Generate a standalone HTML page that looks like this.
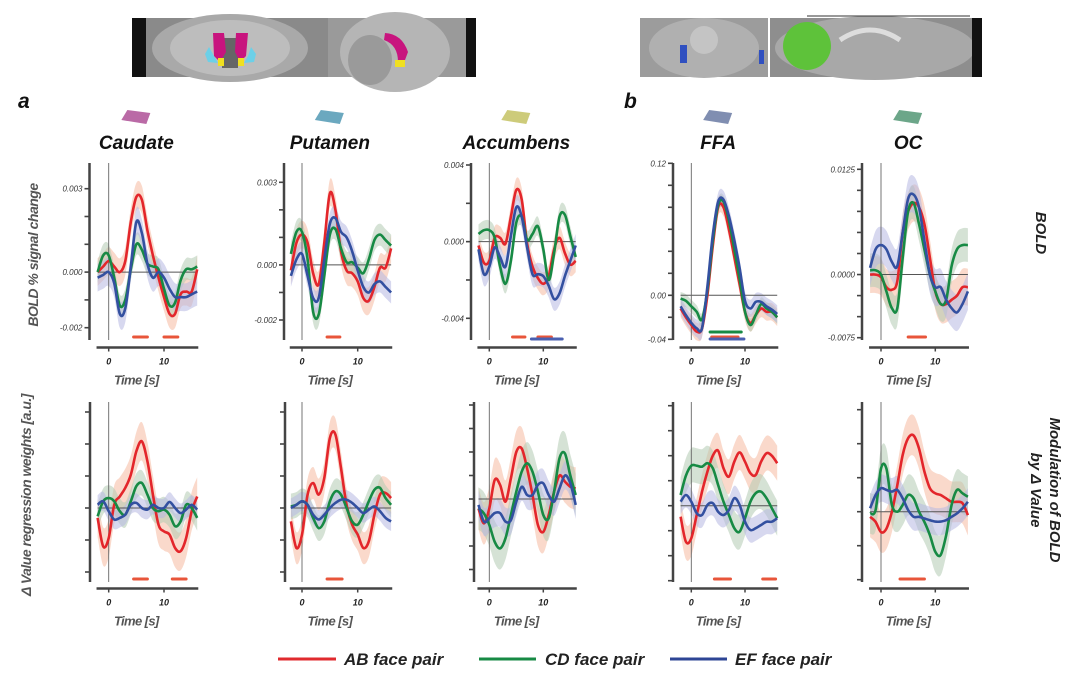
<!DOCTYPE html>
<html><head><meta charset="utf-8">
<style>
body{margin:0;background:#fff;}
svg{display:block;font-family:"Liberation Sans",sans-serif;}
</style></head>
<body>
<svg id="fig" width="1088" height="692" viewBox="0 0 1088 692" xmlns="http://www.w3.org/2000/svg">
<!-- brain images -->
<g>
  <rect x="132" y="18" width="196" height="59" fill="#8a8a8a"/>
  <rect x="132" y="18" width="14" height="59" fill="#111"/>
  <ellipse cx="230" cy="48" rx="78" ry="34" fill="#a9a9a9"/>
  <ellipse cx="230" cy="48" rx="60" ry="28" fill="#bdbdbd"/>
  <rect x="222" y="38" width="16" height="30" fill="#666"/>
  <path d="M213 33 L224 33 L226 52 L220 62 L214 56 Z" fill="#c8147e"/>
  <path d="M236 33 L248 33 L246 56 L240 62 L235 52 Z" fill="#c8147e"/>
  <path d="M209 47 L214 56 L218 63 L208 62 L205 54 Z" fill="#6cd0e8"/>
  <path d="M251 47 L256 54 L254 62 L244 63 L248 56 Z" fill="#6cd0e8"/>
  <rect x="218" y="58" width="6" height="8" fill="#f0e020"/>
  <rect x="238" y="58" width="6" height="8" fill="#f0e020"/>
  <rect x="328" y="18" width="148" height="59" fill="#9a9a9a"/>
  <ellipse cx="395" cy="52" rx="55" ry="40" fill="#b5b5b5"/>
  <ellipse cx="370" cy="60" rx="22" ry="25" fill="#9a9a9a"/>
  <path d="M385 33 Q402 34 408 52 L405 60 L398 62 Q398 45 384 40 Z" fill="#c8147e"/>
  <rect x="395" y="60" width="10" height="7" fill="#f0e020"/>
  <rect x="466" y="18" width="10" height="59" fill="#111"/>
</g>
<g>
  <rect x="640" y="18" width="128" height="59" fill="#9c9c9c"/>
  <ellipse cx="704" cy="48" rx="55" ry="30" fill="#b0b0b0"/>
  <ellipse cx="704" cy="40" rx="14" ry="14" fill="#c4c4c4"/>
  <rect x="680" y="45" width="7" height="18" fill="#3050c0"/>
  <rect x="759" y="50" width="5" height="14" fill="#3050c0"/>
  <rect x="770" y="18" width="212" height="59" fill="#8e8e8e"/>
  <ellipse cx="875" cy="48" rx="100" ry="32" fill="#a8a8a8"/>
  <path d="M840 40 Q870 20 900 40" stroke="#ddd" stroke-width="5" fill="none"/>
  <ellipse cx="807" cy="46" rx="24" ry="24" fill="#5ec23a"/>
  <rect x="972" y="18" width="10" height="59" fill="#111"/>
  <line x1="807" y1="16" x2="970" y2="16" stroke="#333" stroke-width="1"/>
</g>
<text x="18" y="108" font-size="21" font-weight="bold" font-style="italic" fill="#111">a</text>
<text x="624" y="108" font-size="21" font-weight="bold" font-style="italic" fill="#111">b</text>
<text transform="translate(38,255) rotate(-90)" text-anchor="middle" font-size="14" font-weight="bold" font-style="italic" fill="#555" letter-spacing="-0.5">BOLD % signal change</text>
<text transform="translate(31,495) rotate(-90)" text-anchor="middle" font-size="14" font-weight="bold" font-style="italic" fill="#555" letter-spacing="-0.5">Δ Value regression weights [a.u.]</text>
<text transform="translate(1036,233) rotate(90)" text-anchor="middle" font-size="15" font-weight="bold" font-style="italic" fill="#222">BOLD</text>
<text transform="translate(1050,490) rotate(90)" text-anchor="middle" font-size="15" font-weight="bold" font-style="italic" fill="#222">Modulation of BOLD</text>
<text transform="translate(1031,490) rotate(90)" text-anchor="middle" font-size="15" font-weight="bold" font-style="italic" fill="#222">by Δ Value</text>
<g id="plots"></g>
<g>
  <g>
    <line x1="278" y1="659" x2="336" y2="659" stroke="#e02a2e" stroke-width="3"/>
    <text x="344" y="665" font-size="17" font-weight="bold" font-style="italic" fill="#222">AB face pair</text>
  </g>
  <g>
    <line x1="479" y1="659" x2="536" y2="659" stroke="#178a44" stroke-width="3"/>
    <text x="545" y="665" font-size="17" font-weight="bold" font-style="italic" fill="#222">CD face pair</text>
  </g>
  <g>
    <line x1="670" y1="659" x2="727" y2="659" stroke="#2e4595" stroke-width="3"/>
    <text x="735" y="665" font-size="17" font-weight="bold" font-style="italic" fill="#222">EF face pair</text>
  </g>
</g>
</svg>
<script>
// ---- data ----
const times = [-2,-1,0,1,2,3,4,5,6,7,8,9,10,11,12,13,14,15,16];
const regions = ["Caudate","Putamen","Accumbens","FFA","OC"];
const seriesNames = ["AB","CD","EF"];
// BOLD % signal change (top row)
const boldCaudateAB = [0,0.0002,0.0004,0.0002,0,0.0004,0.0018,0.0027,0.0026,0.0015,0.0006,-0.0002,-0.0009,-0.0015,-0.0015,-0.0008,-0.0007,-0.0007,0.0001];
const boldCaudateCD = [0,0.0006,0.0006,-0.0002,-0.0012,-0.001,0.0001,0.001,0.0008,0.0003,0.0002,0.0001,-0.0006,-0.0012,-0.0011,-0.0003,0.0001,0.0001,0.0002];
const boldCaudateEF = [-0.0002,-0.0001,0,-0.0004,-0.0015,-0.0013,0.0002,0.0018,0.0014,0.0003,-0.0002,0,-0.0002,-0.0006,-0.0009,-0.0009,-0.0009,-0.0008,-0.0007];
const boldPutamenAB = [-0.0002,0.0008,0.0011,0.0008,-0.0003,-0.0007,0.0008,0.0026,0.002,0.0005,-0.0002,-0.0003,-0.0006,-0.0012,-0.0013,-0.0008,-0.0001,-0.0001,0.0006];
const boldPutamenCD = [0.0004,0.0012,0.0012,0.0002,-0.0017,-0.0018,-0.0004,0.0011,0.0013,0.0006,0.0001,0.0001,-0.0001,-0.0003,0.0002,0.0009,0.0011,0.0009,0.0007];
const boldPutamenEF = [-0.0004,0.0002,0.0004,-0.0004,-0.0012,-0.0012,0.0002,0.0015,0.0017,0.0012,0.001,0.0005,-0.0002,-0.0008,-0.001,-0.0007,-0.0006,-0.0008,-0.001];
const boldAccumbensAB = [-0.0002,-0.0011,-0.001,0.0002,0.0002,-0.0001,0.0013,0.0027,0.0022,-0.0001,-0.0013,-0.0019,-0.0022,-0.0018,-0.0004,0.0002,-0.0006,-0.0012,-0.001];
const boldAccumbensCD = [0.0004,0.0006,0.0006,0.0002,-0.0013,-0.0022,-0.001,0.001,0.0013,0.0001,0.0004,0.0008,-0.0004,-0.002,-0.0006,0.0013,0.0014,0.0003,-0.0008];
const boldAccumbensEF = [-0.0004,-0.0017,-0.0013,-0.0003,-0.0008,-0.0013,0.0003,0.0018,0.0013,-0.0003,-0.0017,-0.0017,-0.0018,-0.0023,-0.003,-0.0027,-0.0018,-0.001,-0.0002];
const boldFFAAB = [-0.012,-0.02,-0.027,-0.033,-0.03,0,0.045,0.08,0.08,0.06,0.035,0.01,-0.015,-0.025,-0.018,-0.012,-0.015,-0.015,-0.02];
const boldFFACD = [-0.003,-0.005,-0.01,-0.015,-0.022,0.005,0.05,0.082,0.085,0.068,0.042,0.015,-0.015,-0.027,-0.018,-0.008,-0.012,-0.015,-0.02];
const boldFFAEF = [-0.01,-0.018,-0.025,-0.03,-0.03,0.008,0.055,0.085,0.087,0.072,0.05,0.025,-0.005,-0.012,-0.006,-0.006,-0.01,-0.013,-0.017];
const boldOCAB = [0,0,-0.0003,-0.0015,-0.0018,-0.0008,0.005,0.0075,0.0085,0.008,0.006,0.002,-0.002,-0.0035,-0.0035,-0.003,-0.0025,-0.0015,-0.0015];
const boldOCCD = [0.0005,0.0005,0,-0.002,-0.004,-0.004,0.002,0.0075,0.0085,0.006,0.003,0,-0.002,-0.0035,-0.003,0.001,0.003,0.0035,0.0035];
const boldOCEF = [0.0008,0.003,0.0035,0.003,0.0015,0.001,0.005,0.009,0.0095,0.008,0.004,0,-0.0015,-0.0015,-0.003,-0.004,-0.0045,-0.0035,-0.002];
// Δ Value regression weights (bottom row, a.u.)
const modCaudateAB = [-0.31,-1.2,-0.94,0.1,0.36,0.63,1.04,1.77,2.08,1.46,0.42,-0.52,-0.73,-0.83,-1.25,-1.35,-0.94,-0.1,0.36];
const modCaudateCD = [-0.26,0.21,0.31,0.21,-0.1,-0.21,0.21,0.68,0.78,0.42,0,-0.1,-0.05,-0.21,-0.57,-0.42,0.1,0,-0.31];
const modCaudateEF = [0.1,0.21,-0.1,-0.36,-0.31,-0.21,0.1,0.16,0,-0.05,0.1,0,0,0.19,0,-0.16,-0.05,0.1,-0.05];
const modPutamenAB = [-0.42,-1.25,-0.83,0.42,0.78,0.42,0.94,2.19,2.3,1.25,0.1,-0.52,-0.83,-1.25,-1.04,-0.21,0.42,0.47,0.31];
const modPutamenCD = [0.05,0.1,0.21,0.1,-0.31,-0.63,-0.42,0.21,0.52,0.42,0,-0.42,-0.52,-0.21,0.21,0.57,0.63,0.31,0.1];
const modPutamenEF = [0,0.1,0.21,0.1,-0.21,-0.36,-0.21,0,0.16,0.26,0.26,0.16,0,-0.16,-0.05,0.05,-0.1,-0.31,-0.42];
const modAccumbensAB = [-0.4,-1.04,-0.4,0.81,0.6,-0.11,0.88,2.0,2.15,1.3,0.17,-1.1,-1.4,-0.68,0.31,1.0,0.74,0.52,0.45];
const modAccumbensCD = [-0.4,-0.61,-1.1,-1.82,-2.1,-1.67,-0.68,0.31,1.16,1.52,1.16,0.31,-0.68,-0.82,0.31,1.73,1.94,1.0,0.17];
const modAccumbensEF = [-0.25,-0.96,-0.82,-0.6,-0.6,-0.96,-0.9,-0.11,0.52,0.17,0.17,0.6,0.67,0.17,-0.11,0.45,1.0,0.67,-0.25];
const modFFAAB = [-0.44,-1.44,-1.3,-0.37,0.56,1.36,2.0,2.2,1.5,1.16,1.76,2.13,1.76,1.3,1.23,1.76,2.1,2.0,1.7];
const modFFACD = [0.43,1.2,1.6,1.6,1.56,1.7,1.5,0.83,0.16,-0.37,-0.9,-1.04,-0.5,0.16,0.5,0.56,0.3,-0.1,-0.5];
const modFFAEF = [0.16,0.43,0.16,-0.3,-0.37,0.03,0.1,-0.24,-0.37,-0.17,0.3,0.03,-0.64,-0.97,-0.9,-0.77,-0.64,-0.64,-0.5];
const modOCAB = [-0.15,-0.3,-0.6,-0.5,0,0.78,1.67,2.16,2.24,1.86,1.18,0.69,0.54,0.49,0.39,0.29,0.29,0.25,-0.1];
const modOCCD = [-0.05,0.05,1.27,1.27,0.2,0,0.2,0.49,0.39,0,-0.3,-0.69,-1.18,-1.27,-0.69,0.2,0.64,0.54,0.44];
const modOCEF = [0.1,0.49,0.69,0.64,0.59,0.64,0.39,0.05,-0.15,-0.15,-0.2,-0.25,-0.29,-0.29,-0.25,-0.15,-0.05,0.1,0.29];
// error band half-widths [AB, CD, EF]
const boldBands = [[0.0005,0.0004,0.0005],[0.0005,0.0004,0.0004],[0.0006,0.0005,0.0006],[0.008,0.006,0.008],[0.0022,0.002,0.0022]];
const modBands = [[0.6,0.4,0.3],[0.5,0.4,0.3],[0.9,0.9,0.6],[0.7,0.7,0.5],[0.6,0.6,0.4]];
// y ticks: values
const boldTicks = [[0.003,0.002,0.001,0,-0.001,-0.002],[0.003,0.002,0.001,0,-0.001,-0.002],[0.004,0.002,0,-0.002,-0.004],[0.12,0.1,0.08,0.06,0.04,0.02,0,-0.02,-0.04],[0.0125,0.01,0.0075,0.005,0.0025,0,-0.0025,-0.005,-0.0075]];
const boldTickLabels = [["0.003","","","0.000","","-0.002"],["0.003","","","0.000","","-0.002"],["0.004","","0.000","","-0.004"],["0.12","","","","","","0.00","","-0.04"],["0.0125","","","","","0.0000","","","-0.0075"]];
const modTicks = [[3,2,1,0,-1,-2],[3,2,1,0,-1,-2],[4,3,2,1,0,-1,-2,-3],[4,3,2,1,0,-1,-2,-3],[3,2,1,0,-1,-2]];
const xTickValues = [0,10];
// significance bars [start,end] per series
const boldSig = [[[[4.5,7],[10,12.5]],[],[]],[[[4.5,6.8]],[],[]],[[[4.3,6.6],[9,11.5]],[],[[7.8,13.5]]],[[[3.8,8.7]],[[3.5,9.3]],[[3.5,9.8]]],[[[5,8.2]],[],[]]];
const modSig = [[[[4.5,7],[11.5,14]],[],[]],[[[4.5,7.2]],[],[]],[[],[],[]],[[[4.3,7.3],[13.3,15.7]],[],[]],[[[3.5,8]],[],[]]];
const boldSeries = [[boldCaudateAB,boldCaudateCD,boldCaudateEF],[boldPutamenAB,boldPutamenCD,boldPutamenEF],[boldAccumbensAB,boldAccumbensCD,boldAccumbensEF],[boldFFAAB,boldFFACD,boldFFAEF],[boldOCAB,boldOCCD,boldOCEF]];
const modSeries = [[modCaudateAB,modCaudateCD,modCaudateEF],[modPutamenAB,modPutamenCD,modPutamenEF],[modAccumbensAB,modAccumbensCD,modAccumbensEF],[modFFAAB,modFFACD,modFFAEF],[modOCAB,modOCCD,modOCEF]];

// ---- layout ----
const lineColors = ["#e3262b","#178a44","#3350a0"];
const bandColors = ["#f6b9a0","#b3cbb3","#b6b8e2"];
const sigColors = ["#e8553a","#178a44","#4a5fb0"];
const colX0 = [108.7,302,489.3,691.3,881];
const colPx = [5.53,5.57,5.4,5.37,5.43];
const colYAxisTop = [89.5,284,471,673,862];
const colYAxisBot = [90,285,474,673,862];
const iconColors = ["#b35a9c","#5b9fb8","#c8c56c","#7282a8","#5c9c7c"];
const boldTickPix = [[188.7,327.7],[182.3,320],[165,318.3],[163.3,339.3],[169.3,337.7]];
const modTickPix = [[412,572],[412,572],[405,569.5],[405.7,580.7],[409.7,579.7]];
const rows = [
  {series:boldSeries,bands:boldBands,ticks:boldTicks,labels:boldTickLabels,pix:boldTickPix,sig:boldSig,axTop:163,axBot:340,xAxisY:347.5,sigY:[337,332,339],name:"bold",yAx:colYAxisTop},
  {series:modSeries,bands:modBands,ticks:modTicks,labels:null,pix:modTickPix,sig:modSig,axTop:402,axBot:582,xAxisY:588.5,sigY:[579,574,570],name:"modulation",yAx:colYAxisBot}
];
const NS="http://www.w3.org/2000/svg";
const root=document.getElementById("plots");
function mk(tag,attrs,parent){const e=document.createElementNS(NS,tag);for(const k in attrs)e.setAttribute(k,attrs[k]);(parent||root).appendChild(e);return e;}
function smoothPath(pts){
  let d="M"+pts[0][0].toFixed(1)+" "+pts[0][1].toFixed(1);
  for(let i=0;i<pts.length-1;i++){
    const p0=pts[Math.max(i-1,0)],p1=pts[i],p2=pts[i+1],p3=pts[Math.min(i+2,pts.length-1)];
    const c1=[p1[0]+(p2[0]-p0[0])/6,p1[1]+(p2[1]-p0[1])/6];
    const c2=[p2[0]-(p3[0]-p1[0])/6,p2[1]-(p3[1]-p1[1])/6];
    d+=" C"+c1[0].toFixed(1)+" "+c1[1].toFixed(1)+" "+c2[0].toFixed(1)+" "+c2[1].toFixed(1)+" "+p2[0].toFixed(1)+" "+p2[1].toFixed(1);
  }
  return d;
}
regions.forEach((reg,c)=>{
  const xs=t=>colX0[c]+t*colPx[c];
  // icon & title
  const ic=mk("path",{d:`M${xs(5)-15} ${120} L${xs(5)-9} ${110} L${xs(5)+14} ${113} L${xs(5)+10} ${124} Z`,fill:iconColors[c],opacity:"0.9"});
  
  
  const tt=mk("text",{x:xs(5),y:149,"text-anchor":"middle","font-size":"19","font-weight":"bold","font-style":"italic",fill:"#111"});
  tt.textContent=reg;
  
  
  rows.forEach((row,r)=>{
    const g=mk("g",{});
    
    
    const tk=row.ticks[c],pp=row.pix[c];
    const v0=tk[0],v1=tk[tk.length-1];
    const ys=v=>pp[0]+(v-v0)*(pp[1]-pp[0])/(v1-v0);
    const yAxX=row.yAx[c];
    // bands
    row.series[c].forEach((vals,s)=>{
      const bw=row.bands[c][s];
      const up=times.map((t,i)=>[xs(t),ys(vals[i]+bw)]);
      const lo=times.map((t,i)=>[xs(t),ys(vals[i]-bw)]).reverse();
      const d=smoothPath(up)+" L"+smoothPath(lo).slice(1)+" Z";
      const b=mk("path",{d:d,fill:bandColors[s],opacity:"0.55"},g);
      
      
    });
    // zero lines
    const zl=mk("line",{x1:xs(-2),x2:xs(16),y1:ys(0),y2:ys(0),stroke:"#555","stroke-width":"1"},g);
    
    
    const vl=mk("line",{x1:xs(0),x2:xs(0),y1:row.axTop,y2:row.axBot,stroke:"#666","stroke-width":"0.9"},g);
    
    
    // lines
    row.series[c].forEach((vals,s)=>{
      const pts=times.map((t,i)=>[xs(t),ys(vals[i])]);
      const l=mk("path",{d:smoothPath(pts),fill:"none",stroke:lineColors[s],"stroke-width":"2.6","stroke-linejoin":"round"},g);
      
      
    });
    // significance bars
    row.sig[c].forEach((segs,s)=>{
      segs.forEach(seg=>{
        const sb=mk("line",{x1:xs(seg[0]),x2:xs(seg[1]),y1:row.sigY[s],y2:row.sigY[s],stroke:sigColors[s],"stroke-width":"3","stroke-linecap":"round"},g);
        
        
      });
    });
    // y axis
    const ya=mk("line",{x1:yAxX,x2:yAxX,y1:row.axTop,y2:row.axBot,stroke:"#444","stroke-width":"2.5"},g);
    
    
    tk.forEach((v,i)=>{
      const t=mk("line",{x1:yAxX-5,x2:yAxX,y1:ys(v),y2:ys(v),stroke:"#444","stroke-width":"1.6"},g);
      
      
      if(row.labels&&row.labels[c][i]){
        const lb=mk("text",{x:yAxX-7,y:ys(v)+3,"text-anchor":"end","font-size":"8","font-style":"italic",fill:"#333"},g);
        lb.textContent=row.labels[c][i];
        
        
      }
    });
    // x axis
    const xa=mk("line",{x1:xs(-2.2),x2:xs(16.2),y1:row.xAxisY,y2:row.xAxisY,stroke:"#444","stroke-width":"2.5"},g);
    
    
    xTickValues.forEach(v=>{
      const t=mk("line",{x1:xs(v),x2:xs(v),y1:row.xAxisY,y2:row.xAxisY+4,stroke:"#444","stroke-width":"1.5"},g);
      
      
      const lb=mk("text",{x:xs(v),y:row.xAxisY+17,"text-anchor":"middle","font-size":"9","font-weight":"bold","font-style":"italic",fill:"#222"},g);
      lb.textContent=String(v);
      
      
    });
    const xt=mk("text",{x:xs(5),y:row.xAxisY+37,"text-anchor":"middle","font-size":"13","font-weight":"bold","font-style":"italic",fill:"#555","letter-spacing":"-0.6"},g);
    xt.textContent="Time [s]";
    
    
  });
});
</script>
</body></html>
